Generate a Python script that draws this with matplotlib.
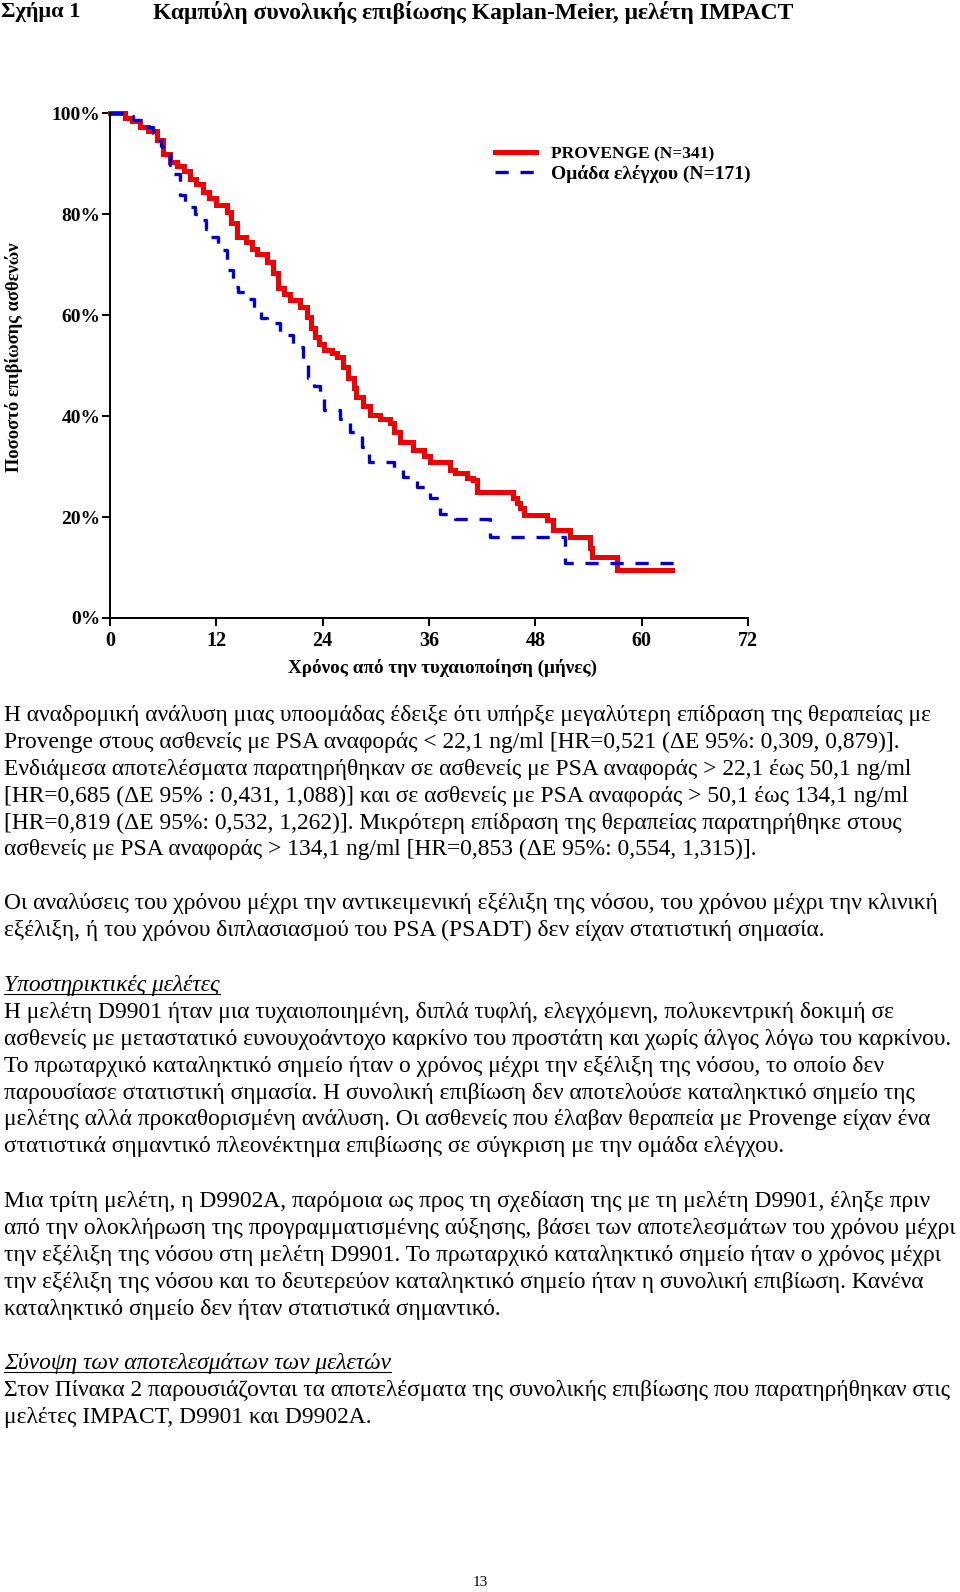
import matplotlib
matplotlib.use('Agg')
import matplotlib.pyplot as plt
from matplotlib.lines import Line2D

W, H = 960, 1592
SERIF = ['Liberation Serif', 'DejaVu Serif']
plt.rcParams['font.family'] = SERIF
plt.rcParams['lines.scale_dashes'] = False

# Kaplan-Meier steps (months, % surviving)
prov_t = [0, 1.7, 2.5, 3.4, 4.3, 5.3, 6.0, 6.8, 7.6, 8.3, 9.0, 9.7, 10.5, 11.2, 12.0,
          13.2, 13.7, 14.3, 15.4, 16.0, 16.6, 17.7, 18.4, 19.0, 19.6, 20.3, 21.4, 22.2,
          22.7, 23.1, 23.6, 24.1, 25.0, 25.6, 26.3, 26.9, 27.5, 27.8, 28.6, 29.3, 30.5,
          31.6, 32.0, 32.7, 34.2, 35.4, 36.1, 38.4, 38.9, 40.3, 41.0, 41.4, 45.5, 45.9,
          46.3, 46.7, 49.3, 50.0, 51.9, 54.2, 54.4, 57.2, 63.4]
prov_s = [100, 99.0, 98.5, 97.3, 96.5, 94.7, 92.0, 90.4, 89.5, 88.5, 87.0, 86.0, 84.4, 83.2, 81.8,
          80.5, 78.2, 75.5, 74.5, 73.2, 72.2, 70.6, 68.3, 65.3, 64.2, 63.0, 61.6, 59.7,
          57.5, 55.7, 54.2, 53.1, 52.5, 51.7, 49.8, 47.5, 45.5, 43.8, 42.0, 40.2, 39.4,
          38.6, 36.9, 34.9, 33.3, 32.0, 31.0, 29.3, 28.7, 27.7, 27.3, 25.0, 23.7, 22.7,
          21.8, 20.4, 19.4, 17.4, 16.1, 13.8, 12.1, 9.5, 9.5]

ctrl_t = [0, 1.9, 2.6, 4.1, 4.8, 5.3, 5.7, 6.0, 6.8, 7.1, 7.9, 8.5, 9.0, 9.6, 10.2, 10.8,
          11.3, 12.2, 13.2, 13.9, 14.5, 15.2, 16.2, 17.0, 17.7, 19.2, 20.7, 21.3, 21.8,
          22.4, 23.0, 23.7, 24.1, 26.0, 27.1, 28.4, 29.2, 32.0, 33.1, 34.6, 36.1, 37.2,
          38.9, 42.9, 51.4, 64.9]
ctrl_s = [100, 99.4, 98.6, 97.3, 96.0, 94.7, 93.5, 92.0, 89.7, 88.0, 83.8, 82.5, 81.4, 80.0,
          78.8, 77.0, 75.5, 72.9, 68.9, 65.6, 64.5, 63.3, 61.0, 59.5, 58.4, 56.0, 54.1,
          53.7, 50.4, 47.5, 46.0, 44.5, 41.2, 39.5, 36.9, 33.9, 31.0, 29.7, 28.0, 26.0,
          23.7, 20.7, 19.6, 16.1, 10.8, 10.8]

x_ticks = [0, 12, 24, 36, 48, 60, 72]
y_ticks = [0, 20, 40, 60, 80, 100]
y_labels = ['0%', '20%', '40%', '60%', '80%', '100%']
legend_labels = ['PROVENGE (N=341)', 'Ομάδα ελέγχου (N=171)']

title_num = 'Σχήμα 1'
title_txt = 'Καμπύλη συνολικής επιβίωσης Kaplan-Meier, μελέτη IMPACT'
ylabel = 'Ποσοστό επιβίωσης ασθενών'
xlabel = 'Χρόνος από την τυχαιοποίηση (μήνες)'

para1 = ['Η αναδρομική ανάλυση μιας υποομάδας έδειξε ότι υπήρξε μεγαλύτερη επίδραση της θεραπείας με',
         'Provenge στους ασθενείς με PSA αναφοράς < 22,1 ng/ml [HR=0,521 (ΔΕ 95%: 0,309, 0,879)].',
         'Ενδιάμεσα αποτελέσματα παρατηρήθηκαν σε ασθενείς με PSA αναφοράς > 22,1 έως 50,1 ng/ml',
         '[HR=0,685 (ΔΕ 95% : 0,431, 1,088)] και σε ασθενείς με PSA αναφοράς > 50,1 έως 134,1 ng/ml',
         '[HR=0,819 (ΔΕ 95%: 0,532, 1,262)]. Μικρότερη επίδραση της θεραπείας παρατηρήθηκε στους',
         'ασθενείς με PSA αναφοράς > 134,1 ng/ml [HR=0,853 (ΔΕ 95%: 0,554, 1,315)].']
para2 = ['Οι αναλύσεις του χρόνου μέχρι την αντικειμενική εξέλιξη της νόσου, του χρόνου μέχρι την κλινική',
         'εξέλιξη, ή του χρόνου διπλασιασμού του PSA (PSADT) δεν είχαν στατιστική σημασία.']
head3 = 'Υποστηρικτικές μελέτες'
para3 = ['Η μελέτη D9901 ήταν μια τυχαιοποιημένη, διπλά τυφλή, ελεγχόμενη, πολυκεντρική δοκιμή σε',
         'ασθενείς με μεταστατικό ευνουχοάντοχο καρκίνο του προστάτη και χωρίς άλγος λόγω του καρκίνου.',
         'Το πρωταρχικό καταληκτικό σημείο ήταν ο χρόνος μέχρι την εξέλιξη της νόσου, το οποίο δεν',
         'παρουσίασε στατιστική σημασία. Η συνολική επιβίωση δεν αποτελούσε καταληκτικό σημείο της',
         'μελέτης αλλά προκαθορισμένη ανάλυση. Οι ασθενείς που έλαβαν θεραπεία με Provenge είχαν ένα',
         'στατιστικά σημαντικό πλεονέκτημα επιβίωσης σε σύγκριση με την ομάδα ελέγχου.']
para4 = ['Μια τρίτη μελέτη, η D9902A, παρόμοια ως προς τη σχεδίαση της με τη μελέτη D9901, έληξε πριν',
         'από την ολοκλήρωση της προγραμματισμένης αύξησης, βάσει των αποτελεσμάτων του χρόνου μέχρι',
         'την εξέλιξη της νόσου στη μελέτη D9901. Το πρωταρχικό καταληκτικό σημείο ήταν ο χρόνος μέχρι',
         'την εξέλιξη της νόσου και το δευτερεύον καταληκτικό σημείο ήταν η συνολική επιβίωση. Κανένα',
         'καταληκτικό σημείο δεν ήταν στατιστικά σημαντικό.']
head5 = 'Σύνοψη των αποτελεσμάτων των μελετών'
para5 = ['Στον Πίνακα 2 παρουσιάζονται τα αποτελέσματα της συνολικής επιβίωσης που παρατηρήθηκαν στις',
         'μελέτες IMPACT, D9901 και D9902A.']
page_no = '13'


def fx(px):
    return px / W


def fy(py):
    return 1 - py / H


fig = plt.figure(figsize=(W / 100, H / 100), dpi=100)
fig.patch.set_facecolor('white')

# ---- chart
ax = fig.add_axes([fx(110), fy(618), (748 - 110) / W, (618 - 113.3) / H])
ax.step(prov_t, prov_s, where='post', color='#F00000', lw=3.6, clip_on=False,
        label=legend_labels[0], solid_joinstyle='miter')
ax.step(ctrl_t, ctrl_s, where='post', color='#0000CC', lw=2.4, clip_on=False,
        dashes=(9.5, 8.5), label=legend_labels[1])
ax.set_xlim(0, 72)
ax.set_ylim(0, 100)
ax.set_xticks(x_ticks)
ax.set_yticks(y_ticks)
ax.set_yticklabels(y_labels)
for s in ['top', 'right']:
    ax.spines[s].set_visible(False)
for s in ['left', 'bottom']:
    ax.spines[s].set_linewidth(1.4)
ax.tick_params(axis='y', direction='out', length=6, width=1.4, pad=1, labelsize=14)
ax.tick_params(axis='x', direction='out', length=5.5, width=1.4, pad=4, labelsize=14.5)
for lab in ax.get_xticklabels() + ax.get_yticklabels():
    lab.set_fontweight('bold')

leg = ax.legend(loc='upper left', bbox_to_anchor=(0.603, 0.937), frameon=False,
                borderpad=0, borderaxespad=0, handlelength=2.1, handletextpad=0.8,
                labelspacing=0.1, prop={'family': SERIF, 'weight': 'bold', 'size': 14})
leg.get_texts()[0].set_fontsize(12.5)

fig.text(fx(443), fy(668), xlabel, ha='center', va='center', fontsize=13.8, fontweight='bold')
fig.text(fx(14), fy(357), ylabel, ha='center', va='center', rotation=90,
         fontsize=13.3, fontweight='bold')

# ---- page text
fig.text(fx(1), fy(12), title_num, ha='left', va='center', fontsize=16, fontweight='bold')
fig.text(fx(153), fy(12), title_txt, ha='left', va='center', fontsize=17, fontweight='bold')

renderer = fig.canvas.get_renderer()
probe = fig.text(0, 0, para1[0], fontsize=10)
body_size = 10 * (932 - 4) / probe.get_window_extent(renderer).width
probe.remove()

LINE = 26.8
X0 = 4


def put_lines(lines, y0, style='normal'):
    for i, line in enumerate(lines):
        fig.text(fx(X0), fy(y0 + i * LINE + 7), line, ha='left', va='baseline',
                 fontsize=body_size, fontstyle=style)


def put_heading(txt, y):
    t = fig.text(fx(X0), fy(y + 7), txt, ha='left', va='baseline',
                 fontsize=body_size, fontstyle='italic')
    bb = t.get_window_extent(renderer)
    fig.add_artist(Line2D([fx(bb.x0), fx(bb.x1)], [fy(y + 10), fy(y + 10)],
                          transform=fig.transFigure, color='black', lw=0.8))


put_lines(para1, 714.4)
put_lines(para2, 902.2)
put_heading(head3, 984.4)
put_lines(para3, 984.4 + LINE)
put_lines(para4, 1200.5)
put_heading(head5, 1361.9)
put_lines(para5, 1361.9 + LINE)

fig.text(fx(480), fy(1583), page_no, ha='center', va='center', fontsize=11)

fig.savefig('out.png', dpi=100, facecolor='white')
